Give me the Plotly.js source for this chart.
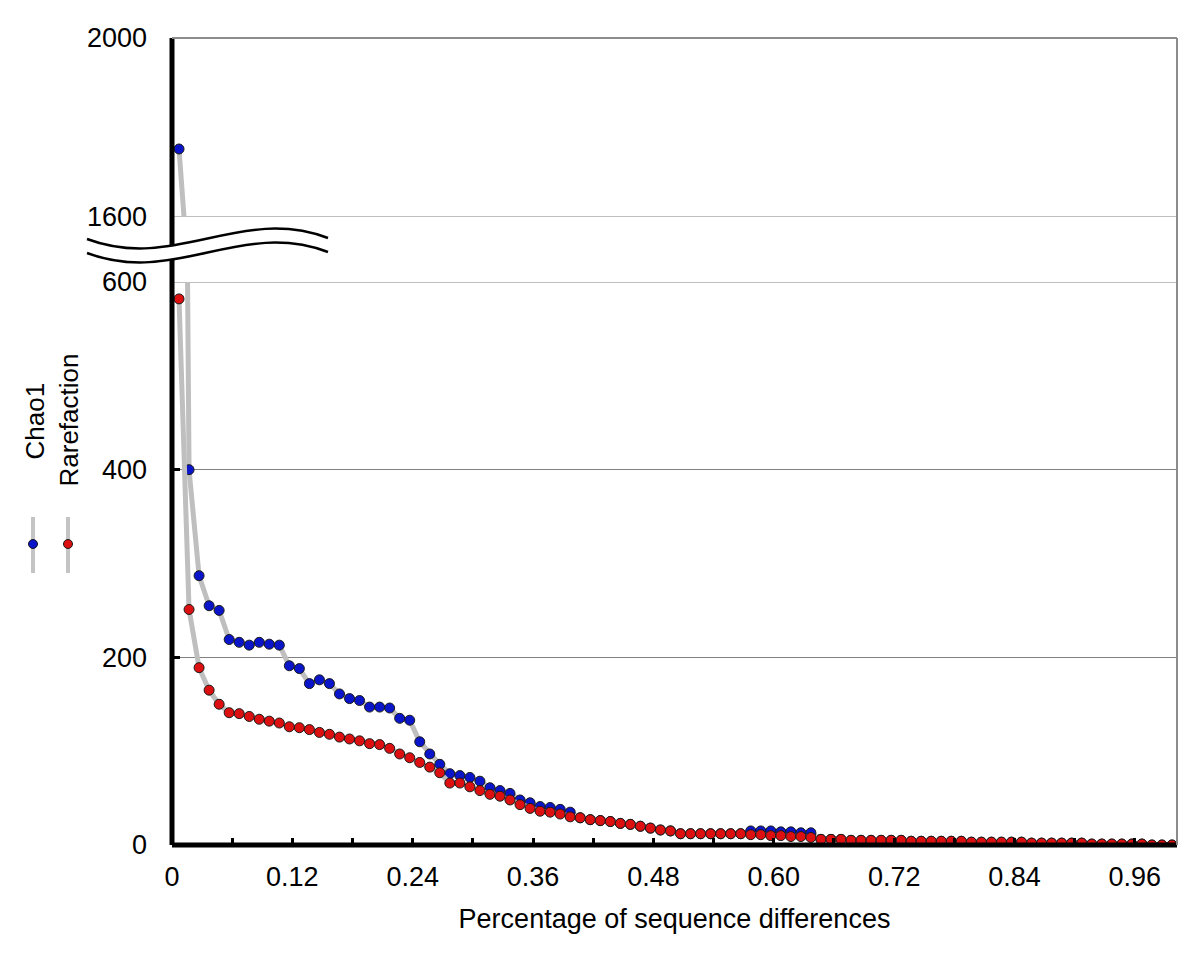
<!DOCTYPE html>
<html>
<head>
<meta charset="utf-8">
<script src="https://cdn.plot.ly/plotly-3.0.1.min.js"></script>
<style>
  html, body { margin: 0; padding: 0; background: #fff; }
  #chart { width: 1200px; height: 961px; }
</style>
</head>
<body>
<div id="chart"></div>
<script>
// Chao1 and rarefaction estimates vs. sequence difference cutoff

const chao1 = [
  1752, 400, 287, 255, 250, 219, 216, 213, 216, 214,
  213, 191, 188, 172, 176, 172, 161, 156, 154, 147,
  147, 146, 135, 133, 110, 97, 86, 76, 74, 72,
  68, 61, 58, 55, 48, 45, 41, 40, 38, 35,
  29, 27, 26, 25, 23, 22, 20, 18, 16, 15,
  12, 12, 12, 12, 12, 12, 12, 15, 15, 15,
  14, 14, 13, 13, 6, 6, 6, 5, 5, 5,
  5, 5, 5, 4, 4, 4, 4, 4, 4, 3,
  3, 3, 3, 3, 3, 2, 2, 2, 2, 2,
  2, 1, 1, 1, 1, 1, 1, 0, 0, 0
];

const rarefaction = [
  582, 251, 189, 165, 150, 141, 140, 137, 134, 132,
  130, 126, 125, 123, 120, 118, 115, 113, 111, 108,
  107, 103, 97, 93, 88, 83, 77, 66, 66, 62,
  58, 54, 52, 48, 43, 39, 36, 35, 33, 30,
  29, 27, 26, 25, 23, 22, 20, 18, 16, 15,
  12, 12, 12, 12, 12, 12, 12, 11, 11, 10,
  10, 9, 9, 8, 6, 6, 6, 5, 5, 5,
  5, 5, 5, 4, 4, 4, 4, 4, 4, 3,
  3, 3, 3, 3, 3, 2, 2, 2, 2, 2,
  2, 1, 1, 1, 1, 1, 1, 0, 0, 0
];

// one estimate per 0.01 step of the cutoff
const diffs = chao1.map((_, i) => Math.round((0.007 + 0.01 * i) * 1000) / 1000);

const xTickVals = [0, 0.06, 0.12, 0.18, 0.24, 0.30, 0.36, 0.42, 0.48, 0.54, 0.60, 0.66, 0.72, 0.78, 0.84, 0.90, 0.96];
const xTickText = ['0', '', '0.12', '', '0.24', '', '0.36', '', '0.48', '', '0.60', '', '0.72', '', '0.84', '', '0.96'];
const yLowTicks = [0, 200, 400, 600];
const yHighTicks = [1600, 2000];

const FONT = 'Liberation Sans, Arial, sans-serif';
const W = 1200, H = 961;
const M = { l: 172, r: 23, t: 38, b: 116 };
const plotW = W - M.l - M.r, plotH = H - M.t - M.b;

// pixel -> paper helpers for decorations
function px(X) { return (X - M.l) / plotW; }
function py(Y) { return (H - M.b - Y) / plotH; }

const lowTop = py(282);
const highBottom = py(217);

const lineStyle = { color: '#bfbfbf', width: 5 };

function seriesTrace(y, color, yaxis) {
    return {
        x: diffs,
        y: y,
        xaxis: 'x',
        yaxis: yaxis,
        type: 'scatter',
        mode: 'lines+markers',
        line: lineStyle,
        marker: { size: 10, color: color, line: { color: '#1a1a1a', width: 1 } },
        cliponaxis: true,
        showlegend: false,
        hoverinfo: 'x+y'
    };
}

const traces = [
    seriesTrace(chao1, '#0a14c8', 'y2'),
    seriesTrace(chao1, '#0a14c8', 'y'),
    seriesTrace(rarefaction, '#dc1010', 'y')
];

function pt(X, Y) { return px(X).toFixed(5) + ',' + py(Y).toFixed(5); }

function wave(dy) {
    return 'M' + pt(87, 239 + dy) + ' C' + pt(175, 272 + dy) + ' ' + pt(240, 205 + dy) + ' ' + pt(328, 238 + dy);
}
function waveBack(dy) {
    return ' L' + pt(328, 238 + dy) + ' C' + pt(240, 205 + dy) + ' ' + pt(175, 272 + dy) + ' ' + pt(87, 239 + dy);
}

const gridStyle = { color: '#808080', width: 1 };

const shapes = [
    // grid lines at the break edges (plotly skips grid at range ends)
    { type: 'line', xref: 'paper', yref: 'y', x0: 0, x1: 1, y0: 600, y1: 600, layer: 'below', line: gridStyle },
    { type: 'line', xref: 'paper', yref: 'y2', x0: 0, x1: 1, y0: 1600, y1: 1600, layer: 'below', line: gridStyle },
    // axes and frame
    { type: 'line', xref: 'paper', yref: 'paper', x0: 0, x1: 0, y0: 0, y1: 1, line: { color: '#000', width: 5 } },
    { type: 'line', xref: 'paper', yref: 'paper', x0: 0, x1: 1, y0: 0, y1: 0, line: { color: '#000', width: 5 } },
    { type: 'line', xref: 'paper', yref: 'paper', x0: 0, x1: 1, y0: 1, y1: 1, line: { color: '#8c8c8c', width: 2 } },
    { type: 'line', xref: 'paper', yref: 'paper', x0: 1, x1: 1, y0: 0, y1: 1, line: { color: '#8c8c8c', width: 2 } },
    // axis break
    { type: 'path', xref: 'paper', yref: 'paper', path: wave(0) + waveBack(14) + ' Z', fillcolor: '#fff', line: { width: 0 } },
    { type: 'path', xref: 'paper', yref: 'paper', path: wave(0), line: { color: '#000', width: 2.5 } },
    { type: 'path', xref: 'paper', yref: 'paper', path: wave(14), line: { color: '#000', width: 2.5 } },
    // legend keys
    { type: 'line', xref: 'paper', yref: 'paper', x0: px(33), x1: px(33), y0: py(517), y1: py(573), line: { color: '#c4c4c4', width: 4 } },
    { type: 'line', xref: 'paper', yref: 'paper', x0: px(68), x1: px(68), y0: py(517), y1: py(573), line: { color: '#c4c4c4', width: 4 } },
    { type: 'circle', xref: 'paper', yref: 'paper', xsizemode: 'pixel', ysizemode: 'pixel',
      xanchor: px(33), yanchor: py(544), x0: -4.5, x1: 4.5, y0: -4.5, y1: 4.5,
      fillcolor: '#0a14c8', line: { color: '#1a1a1a', width: 1 } },
    { type: 'circle', xref: 'paper', yref: 'paper', xsizemode: 'pixel', ysizemode: 'pixel',
      xanchor: px(68), yanchor: py(544), x0: -4.5, x1: 4.5, y0: -4.5, y1: 4.5,
      fillcolor: '#dc1010', line: { color: '#1a1a1a', width: 1 } }
];

const annotations = [
    { text: 'Chao1', xref: 'paper', yref: 'paper', x: px(34), y: py(462), xanchor: 'center', yanchor: 'bottom',
      textangle: -90, showarrow: false, font: { family: FONT, size: 26, color: '#000' } },
    { text: 'Rarefaction', xref: 'paper', yref: 'paper', x: px(68), y: py(489), xanchor: 'center', yanchor: 'bottom',
      textangle: -90, showarrow: false, font: { family: FONT, size: 26, color: '#000' } }
];

const yCommon = {
    ticks: 'inside',
    ticklen: 8,
    tickwidth: 3,
    tickcolor: '#000',
    showgrid: true,
    gridcolor: '#808080',
    gridwidth: 1,
    zeroline: false,
    showline: false,
    tickfont: { family: FONT, size: 27, color: '#000' },
    ticklabelstandoff: 24,
    anchor: 'x'
};

const layout = {
    width: W,
    height: H,
    margin: M,
    paper_bgcolor: '#fff',
    plot_bgcolor: '#fff',
    font: { family: FONT, color: '#000' },
    showlegend: false,
    xaxis: {
        range: [0, 1.002],
        tickmode: 'array',
        tickvals: xTickVals,
        ticktext: xTickText,
        ticks: 'inside',
        ticklen: 7,
        tickwidth: 3,
        tickcolor: '#000',
        showgrid: false,
        zeroline: false,
        showline: false,
        tickfont: { family: FONT, size: 27, color: '#000' },
        ticklabelstandoff: 13,
        anchor: 'y',
        title: { text: 'Percentage of sequence differences', font: { family: FONT, size: 27, color: '#000' }, standoff: 18 }
    },
    yaxis: Object.assign({}, yCommon, {
        domain: [0, lowTop],
        range: [0, 600],
        tickmode: 'array',
        tickvals: yLowTicks,
        ticktext: yLowTicks.map(String)
    }),
    yaxis2: Object.assign({}, yCommon, {
        domain: [highBottom, 1],
        range: [1600, 2000],
        tickmode: 'array',
        tickvals: yHighTicks,
        ticktext: yHighTicks.map(String)
    }),
    shapes: shapes,
    annotations: annotations
};

Plotly.newPlot('chart', traces, layout, { displayModeBar: false, responsive: false });
</script>
</body>
</html>
